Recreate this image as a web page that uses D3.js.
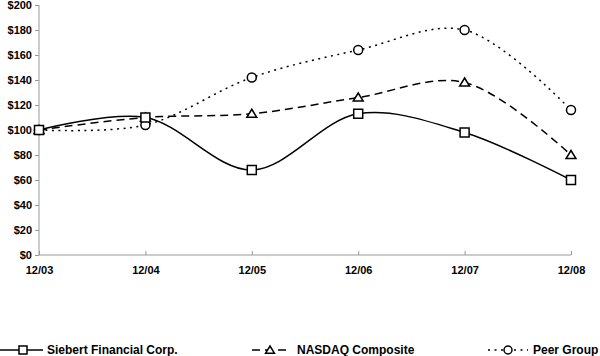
<!DOCTYPE html>
<html><head><meta charset="utf-8">
<script src="https://cdn.jsdelivr.net/npm/d3@7"></script>
<style>body{margin:0;background:#fff}svg{display:block}text{font-family:"Liberation Sans",Arial,sans-serif;font-weight:bold;fill:#000}</style>
</head><body><svg id="c" width="600" height="356"></svg>
<script>
const categories = ["12/03","12/04","12/05","12/06","12/07","12/08"];
const siebert = [100, 110, 68, 113, 98, 60];
const nasdaq = [100, 110, 113, 126, 138, 80];
const peer = [100, 104, 142, 164, 180, 116];
const yTicks = [0,20,40,60,80,100,120,140,160,180,200];
const seriesNames = ["Siebert Financial Corp.","NASDAQ Composite","Peer Group"];

const svg = d3.select("#c");
const x = d3.scalePoint().domain(categories).range([39, 571]);
const y = d3.scaleLinear().domain([0,200]).range([255, 5]);

const yAxis = svg.append("g").attr("transform","translate(39,0)")
  .call(d3.axisLeft(y).tickValues(yTicks).tickSize(4).tickPadding(3).tickFormat(d=>"$"+d));
yAxis.selectAll("path,line").attr("stroke","#999");
yAxis.select("path").attr("d","M0,5V255");
yAxis.selectAll("text").attr("font-size",11).attr("font-family","Liberation Sans, Arial").attr("font-weight","bold").attr("fill","#000");

const xAxis = svg.append("g").attr("transform","translate(0,255)")
  .call(d3.axisBottom(x).tickSize(4).tickPadding(7));
xAxis.selectAll("path,line").attr("stroke","#999");
xAxis.select("path").attr("d","M39,0H571");
xAxis.selectAll(".tick line").attr("y1",-4).attr("y2",0);
xAxis.selectAll("text").attr("font-size",11).attr("font-family","Liberation Sans, Arial").attr("font-weight","bold").attr("fill","#000");

const series = [
  {vals: siebert, dash: null, marker: "square"},
  {vals: nasdaq, dash: "8,5", marker: "triangle"},
  {vals: peer, dash: "2,4.5", marker: "circle"}
];
const line = d3.line().x((d,i)=>x(categories[i])).y(d=>y(d)).curve(d3.curveCatmullRom.alpha(0.5));

function marker(g, type, cx, cy, r){
  if(type==="square") g.append("rect").attr("x",cx-r).attr("y",cy-r).attr("width",2*r).attr("height",2*r);
  else if(type==="triangle") g.append("path").attr("d",`M${cx},${cy-r}L${cx+r*1.1},${cy+r*0.8}L${cx-r*1.1},${cy+r*0.8}Z`);
  else g.append("circle").attr("cx",cx).attr("cy",cy).attr("r",r);
}

series.slice().reverse().forEach(s=>{
  svg.append("path").datum(s.vals).attr("d",line).attr("fill","none").attr("stroke","#000")
    .attr("stroke-width",1.5).attr("stroke-dasharray",s.dash);
});
series.slice().reverse().forEach(s=>{
  const g = svg.append("g").attr("fill","#fff").attr("stroke","#000").attr("stroke-width",1.5);
  s.vals.forEach((v,i)=>marker(g, s.marker, x(categories[i]), y(v), 4.5));
});

// legend
const legendY = 350;
const legend = [
  {x0:0, x1:43, mx:23, tx:47},
  {x0:252, x1:288, mx:270, tx:297},
  {x0:488, x1:528, mx:508, tx:533}
];
legend.forEach((l,i)=>{
  const s = series[i];
  svg.append("line").attr("x1",l.x0).attr("x2",l.x1).attr("y1",legendY).attr("y2",legendY)
    .attr("stroke","#000").attr("stroke-width",1.5).attr("stroke-dasharray",s.dash);
  const g = svg.append("g").attr("fill","#fff").attr("stroke","#000").attr("stroke-width",1.5);
  marker(g, s.marker, l.mx, legendY, 4);
  svg.append("text").attr("x",l.tx).attr("y",legendY+4).attr("font-size",12).text(seriesNames[i]);
});
</script></body></html>
